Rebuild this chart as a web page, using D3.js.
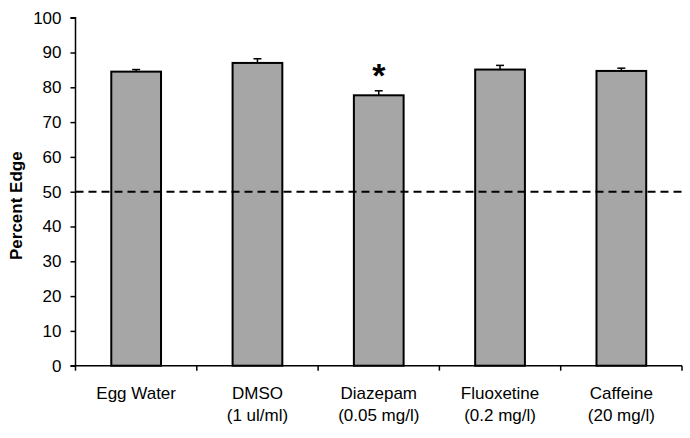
<!DOCTYPE html>
<html><head><meta charset="utf-8">
<script src="https://cdn.jsdelivr.net/npm/d3@7/dist/d3.min.js"></script>
<style>body{margin:0;background:#fff}svg{display:block}text{font-family:"Liberation Sans",Arial,sans-serif}</style>
</head><body><svg id="c" width="690" height="438"></svg>
<script>
const categories = ["Egg Water", "DMSO", "Diazepam", "Fluoxetine", "Caffeine"];
const subLabels = ["", "(1 ul/ml)", "(0.05 mg/l)", "(0.2 mg/l)", "(20 mg/l)"];
const values = [84.5, 87.0, 77.7, 85.1, 84.7];
const errors = [0.6, 1.2, 1.3, 1.2, 0.8];
const significant = [false, false, true, false, false];
const yTicks = [0,10,20,30,40,50,60,70,80,90,100];
const chanceLevel = 50;

const svg = d3.select("#c");
const L = 75.5, R = 682, T = 17.7, B = 365.7;
const x = d3.scaleBand().domain(categories).range([L, R]).paddingInner(0.59).paddingOuter(0.295);
const xb = d3.scaleBand().domain(categories).range([L, R]);
const y = d3.scaleLinear().domain([0, 100]).range([B, T]);

// bars
svg.selectAll("rect.bar").data(values).join("rect")
  .attr("x", (d,i) => x(categories[i]))
  .attr("y", d => y(d))
  .attr("width", x.bandwidth())
  .attr("height", d => B - y(d))
  .attr("fill", "#a6a6a6").attr("stroke", "#000").attr("stroke-width", 2);

// error bars
const eb = svg.append("g").attr("stroke", "#000").attr("stroke-width", 1.5);
values.forEach((v,i) => {
  const cx = x(categories[i]) + x.bandwidth()/2;
  eb.append("line").attr("x1", cx).attr("x2", cx).attr("y1", y(v)).attr("y2", y(v+errors[i]));
  eb.append("line").attr("x1", cx-4).attr("x2", cx+4).attr("y1", y(v+errors[i])).attr("y2", y(v+errors[i]));
  if (significant[i]) {
    svg.append("text").attr("x", cx).attr("y", y(v+errors[i]) - 4)
      .attr("text-anchor", "middle").attr("font-size", 34).attr("font-weight", "bold").text("*");
  }
});

// dashed reference line
svg.append("line").attr("x1", L).attr("x2", R).attr("y1", y(chanceLevel)).attr("y2", y(chanceLevel))
  .attr("stroke", "#000").attr("stroke-width", 2).attr("stroke-dasharray", "8,5");

// y axis
const ya = svg.append("g").attr("transform", `translate(${L},0)`)
  .call(d3.axisLeft(y).tickValues(yTicks).tickSize(5).tickPadding(9));
ya.select(".domain").attr("stroke-width", 1.5).attr("d", `M-5,${T}H0V${B}`);
ya.selectAll(".tick line").attr("stroke-width", 1.5);
ya.selectAll(".tick text").attr("font-size", 17).attr("fill", "#000").attr("font-family", "Liberation Sans, Arial, sans-serif");

// x axis
const xa = svg.append("g");
xa.append("line").attr("x1", L - 5).attr("x2", R).attr("y1", B).attr("y2", B).attr("stroke", "#000").attr("stroke-width", 1.5);
const bounds = categories.map(c => xb(c)).concat([R]);
xa.selectAll("line.t").data(bounds).join("line").attr("class","t")
  .attr("x1", d => d).attr("x2", d => d).attr("y1", B).attr("y2", B + 5)
  .attr("stroke", "#000").attr("stroke-width", 1.5);
categories.forEach((c,i) => {
  const cx = xb(c) + xb.bandwidth()/2;
  xa.append("text").attr("x", cx).attr("y", 399).attr("text-anchor", "middle").attr("font-size", 17).text(c);
  if (subLabels[i]) xa.append("text").attr("x", cx).attr("y", 421).attr("text-anchor", "middle").attr("font-size", 17).text(subLabels[i]);
});

// y label
svg.append("text").attr("transform", `translate(22,${(T+B)/2 + 14}) rotate(-90)`)
  .attr("text-anchor", "middle").attr("font-size", 17).attr("font-weight", "bold").text("Percent Edge");
</script></body></html>
